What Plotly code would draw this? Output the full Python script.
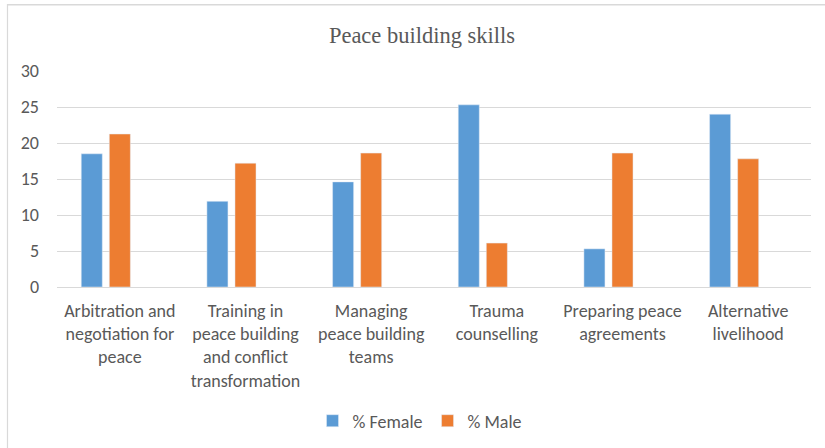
import plotly.graph_objects as go

categories = [
    "Arbitration and<br>negotiation for<br>peace",
    "Training in<br>peace building<br>and conflict<br>transformation",
    "Managing<br>peace building<br>teams",
    "Trauma<br>counselling",
    "Preparing peace<br>agreements",
    "Alternative<br>livelihood",
]
female = [18.5, 11.9, 14.6, 25.3, 5.3, 24.0]
male = [21.25, 17.2, 18.6, 6.1, 18.6, 17.8]
empty_series = [None, None, None, None, None, None]

y_ticks = [0, 5, 10, 15, 20, 25, 30]

BLUE = "#5B9BD5"
ORANGE = "#ED7D31"
GREY = "#595959"
GRID = "#D9D9D9"
FONT = "Carlito, Lato, sans-serif"
FS = 18

W, H = 825, 448
L, R, T, B = 57, 14, 71, 161
PW, PH = W - L - R, H - T - B


def px_x(p):
    return (p - L) / PW


def px_y(p):
    return (T + PH - p) / PH


fig = go.Figure()
fig.add_trace(go.Bar(x=categories, y=female, name="% Female", marker_color=BLUE))
fig.add_trace(go.Bar(x=categories, y=male, name="% Male", marker_color=ORANGE))
fig.add_trace(go.Bar(x=categories, y=empty_series, name="", showlegend=False,
                     marker_color="#A5A5A5"))

fig.update_layout(
    width=W, height=H,
    paper_bgcolor="white", plot_bgcolor="white",
    margin=dict(l=L, r=R, t=T, b=B, autoexpand=False),
    barmode="group", bargap=0.33, bargroupgap=0.25,
    title=dict(text="Peace building skills", x=422 / W, xanchor="center",
               y=1 - 35 / H, yanchor="middle",
               font=dict(family="Liberation Serif, Times New Roman, serif", size=22.5, color=GREY)),
    font=dict(family=FONT, size=FS, color=GREY),
    legend=dict(orientation="h", x=px_x(420), xanchor="center",
                y=px_y(421), yanchor="middle",
                font=dict(family=FONT, size=FS, color=GREY), traceorder="normal",
                itemwidth=30, tracegroupgap=0),
    showlegend=True,
    shapes=[
        dict(type="rect", xref="paper", yref="paper",
             x0=px_x(7), x1=px_x(W + 5), y0=px_y(4), y1=px_y(5.5),
             line=dict(width=0), fillcolor=GRID, layer="above"),
        dict(type="line", xref="paper", yref="paper",
             x0=px_x(7.5), x1=px_x(7.5), y0=px_y(4), y1=px_y(H + 5),
             line=dict(color=GRID, width=1.2), layer="above"),
    ],
)
fig.update_xaxes(showgrid=False, showline=True, linecolor=GRID, linewidth=1,
                 ticks="", ticklabelstandoff=7, automargin=False,
                 tickfont=dict(family=FONT, size=FS, color=GREY))
fig.update_yaxes(range=[0, 30], tickvals=y_ticks, showgrid=True, gridcolor=GRID,
                 gridwidth=1, zeroline=False, showline=False, ticks="",
                 ticklabelstandoff=17, automargin=False,
                 tickfont=dict(family=FONT, size=FS, color=GREY))

fig.write_html("out.html", config={"displayModeBar": False},
               post_script="document.body.style.margin='0';")
